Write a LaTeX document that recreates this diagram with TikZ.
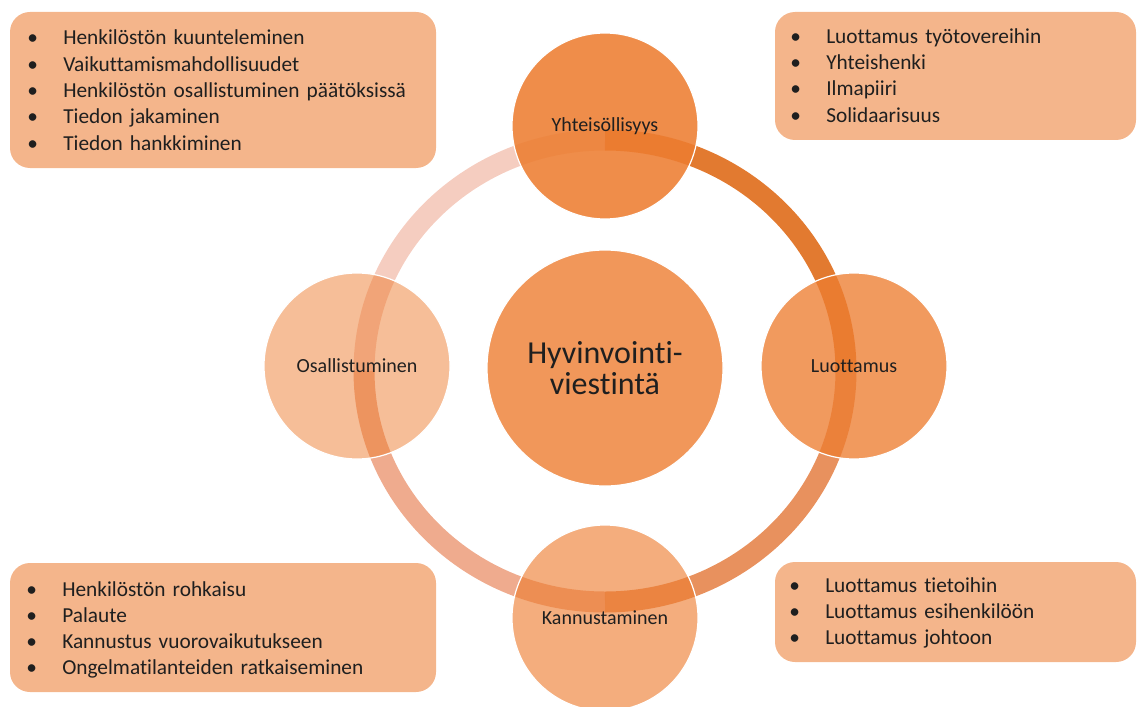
\documentclass[tikz,border=0pt]{standalone}
\usepackage{fontspec}
\setmainfont{Carlito}[Ligatures={NoCommon,NoContextual},Contextuals=NoAlternate]

\definecolor{hvorange}{HTML}{ED7D31}
\definecolor{hvringa}{HTML}{E27A30}
\definecolor{hvringb}{HTML}{E27636}
\definecolor{hvringc}{HTML}{E47343}
\definecolor{hvringd}{HTML}{E68261}
\definecolor{hvbox}{HTML}{F4B58B}
\definecolor{hvtext}{HTML}{1F1F1F}

\tikzset{
  ringseg/.style={line width=15.75pt},
  sat/.style={circle, draw=white, line width=0.9pt, fill=hvorange,
    minimum size=139.5pt, inner sep=0pt, text opacity=1, text=hvtext,
    font=\fontsize{15}{18}\selectfont},
  hub/.style={sat, minimum size=177pt, align=center,
    font=\fontsize{24}{23}\selectfont},
  infobox/.style={fill=hvbox, rounded corners=15pt},
  itemlist/.style={anchor=base west, inner sep=0pt, text width=320pt,
    align=left, text=hvtext, font=\fontsize{16}{19.7}\selectfont},
}
\newcommand{\hvbul}{\makebox[27pt][l]{\textbullet}}

\begin{document}
\begin{tikzpicture}[x=0.75pt,y=-0.75pt]
  \useasboundingbox (0,0) rectangle (1137,706);

  % ring: four quarters, lighter going round
  \coordinate (ringc) at (605,371);
  \draw[ringseg, draw=hvringa] (ringc) ++(-90:241 and 231)
    arc[start angle=-90, end angle=0, x radius=241, y radius=231];
  \draw[ringseg, draw=hvringb, draw opacity=0.8] (ringc) ++(0:241 and 231)
    arc[start angle=0, end angle=90, x radius=241, y radius=231];
  \draw[ringseg, draw=hvringc, draw opacity=0.6] (ringc) ++(90:241 and 231)
    arc[start angle=90, end angle=180, x radius=241, y radius=231];
  \draw[ringseg, draw=hvringd, draw opacity=0.4] (ringc) ++(180:241 and 231)
    arc[start angle=180, end angle=270, x radius=241, y radius=231];

  % centre and the four themes
  \node[hub, fill opacity=0.8] (hub) at (605,368) {Hyvinvointi-\\viestintä};
  \node[sat, fill opacity=0.88] (yht) at (605,126) {Yhteisöllisyys};
  \node[sat, fill opacity=0.78] (luo) at (854,366) {Luottamus};
  \node[sat, fill opacity=0.63] (kan) at (605,618) {Kannustaminen};
  \node[sat, fill opacity=0.5] (osa) at (357,366) {Osallistuminen};

  % top left: Osallistuminen
  \fill[infobox] (10,12) rectangle (436,168);
  \node[itemlist] (osalist) at (27,45) {%
    \hvbul Henkilöstön kuunteleminen\\
    \hvbul Vaikuttamismahdollisuudet\\
    \hvbul Henkilöstön osallistuminen päätöksissä\\
    \hvbul Tiedon jakaminen\\
    \hvbul Tiedon hankkiminen};

  % top right: Yhteisöllisyys
  \fill[infobox] (775,12) rectangle (1136,140);
  \node[itemlist] (yhtlist) at (790,43.3) {%
    \hvbul Luottamus työtovereihin\\
    \hvbul Yhteishenki\\
    \hvbul Ilmapiiri\\
    \hvbul Solidaarisuus};

  % bottom left: Kannustaminen
  \fill[infobox] (10,563) rectangle (436,692);
  \node[itemlist] (kanlist) at (26,596) {%
    \hvbul Henkilöstön rohkaisu\\
    \hvbul Palaute\\
    \hvbul Kannustus vuorovaikutukseen\\
    \hvbul Ongelmatilanteiden ratkaiseminen};

  % bottom right: Luottamus
  \fill[infobox] (775,562) rectangle (1136,662);
  \node[itemlist] (luolist) at (789,592) {%
    \hvbul Luottamus tietoihin\\
    \hvbul Luottamus esihenkilöön\\
    \hvbul Luottamus johtoon};
\end{tikzpicture}
\end{document}
